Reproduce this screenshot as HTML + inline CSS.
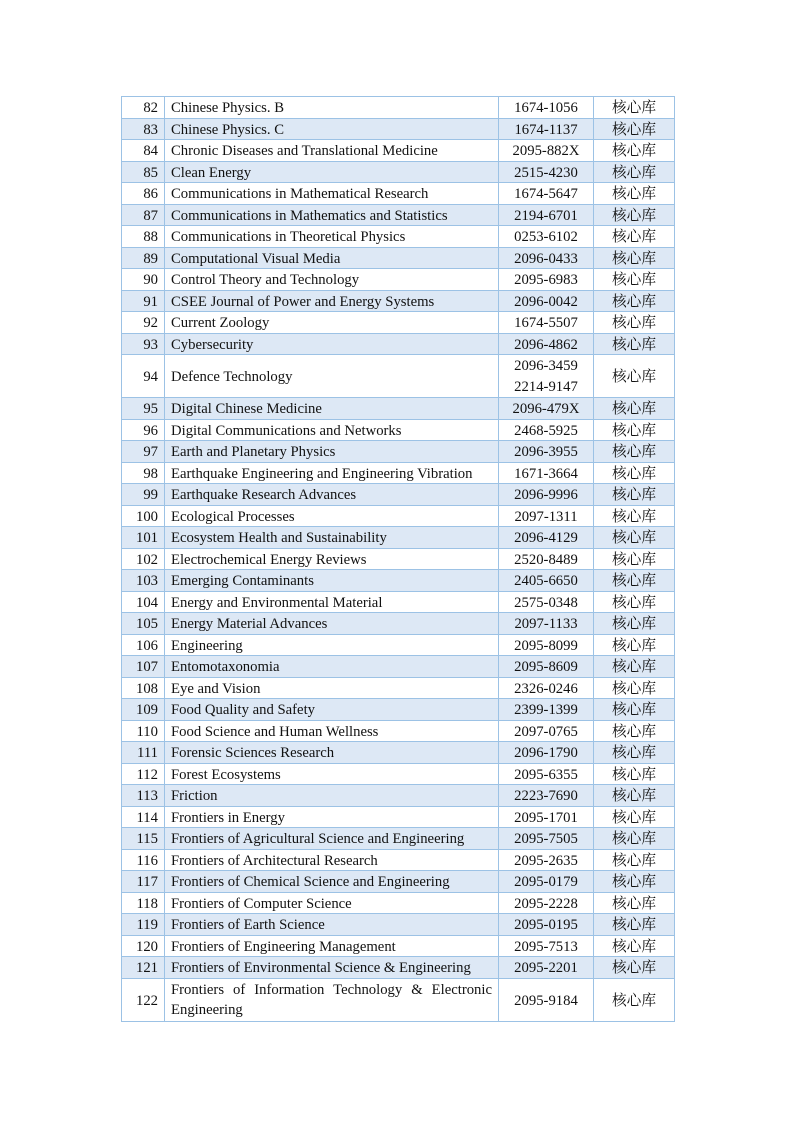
<!DOCTYPE html>
<html><head><meta charset="utf-8"><style>
body{margin:0;width:794px;height:1122px;background:#fff;position:relative;font-family:"Liberation Serif","Noto Serif CJK SC",serif;}
table{position:absolute;left:121px;top:96px;border-collapse:collapse;table-layout:fixed;width:553px;font-size:14.7px;color:#111;}
td{border:1px solid #9cc2e5;padding:0 6px;height:21.5px;white-space:nowrap;overflow:hidden;box-sizing:border-box;}
td>div{height:20px;line-height:20px;overflow:visible;position:relative;top:1px}
tr.b td{background:#dde8f5}
td:nth-child(1){text-align:right;padding-right:6px}
td:nth-child(3),td:nth-child(4){text-align:center}
td.w{white-space:normal;text-align:justify;text-align-last:left}
tr.d td{height:43px}
tr.d td>div{height:42px;line-height:20.5px}
tr.d td.c>div{line-height:42px}
</style></head><body>
<table>
<colgroup><col style="width:43px"><col style="width:334px"><col style="width:95px"><col style="width:81px"></colgroup>
<tr><td><div>82</div></td><td><div>Chinese Physics. B</div></td><td><div>1674-1056</div></td><td><div>核心库</div></td></tr>
<tr class="b"><td><div>83</div></td><td><div>Chinese Physics. C</div></td><td><div>1674-1137</div></td><td><div>核心库</div></td></tr>
<tr><td><div>84</div></td><td><div>Chronic Diseases and Translational Medicine</div></td><td><div>2095-882X</div></td><td><div>核心库</div></td></tr>
<tr class="b"><td><div>85</div></td><td><div>Clean Energy</div></td><td><div>2515-4230</div></td><td><div>核心库</div></td></tr>
<tr><td><div>86</div></td><td><div>Communications in Mathematical Research</div></td><td><div>1674-5647</div></td><td><div>核心库</div></td></tr>
<tr class="b"><td><div>87</div></td><td><div>Communications in Mathematics and Statistics</div></td><td><div>2194-6701</div></td><td><div>核心库</div></td></tr>
<tr><td><div>88</div></td><td><div>Communications in Theoretical Physics</div></td><td><div>0253-6102</div></td><td><div>核心库</div></td></tr>
<tr class="b"><td><div>89</div></td><td><div>Computational Visual Media</div></td><td><div>2096-0433</div></td><td><div>核心库</div></td></tr>
<tr><td><div>90</div></td><td><div>Control Theory and Technology</div></td><td><div>2095-6983</div></td><td><div>核心库</div></td></tr>
<tr class="b"><td><div>91</div></td><td><div>CSEE Journal of Power and Energy Systems</div></td><td><div>2096-0042</div></td><td><div>核心库</div></td></tr>
<tr><td><div>92</div></td><td><div>Current Zoology</div></td><td><div>1674-5507</div></td><td><div>核心库</div></td></tr>
<tr class="b"><td><div>93</div></td><td><div>Cybersecurity</div></td><td><div>2096-4862</div></td><td><div>核心库</div></td></tr>
<tr class="d"><td class="c"><div>94</div></td><td class="c"><div>Defence Technology</div></td><td><div>2096-3459<br>2214-9147</div></td><td class="c"><div>核心库</div></td></tr>
<tr class="b"><td><div>95</div></td><td><div>Digital Chinese Medicine</div></td><td><div>2096-479X</div></td><td><div>核心库</div></td></tr>
<tr><td><div>96</div></td><td><div>Digital Communications and Networks</div></td><td><div>2468-5925</div></td><td><div>核心库</div></td></tr>
<tr class="b"><td><div>97</div></td><td><div>Earth and Planetary Physics</div></td><td><div>2096-3955</div></td><td><div>核心库</div></td></tr>
<tr><td><div>98</div></td><td><div>Earthquake Engineering and Engineering Vibration</div></td><td><div>1671-3664</div></td><td><div>核心库</div></td></tr>
<tr class="b"><td><div>99</div></td><td><div>Earthquake Research Advances</div></td><td><div>2096-9996</div></td><td><div>核心库</div></td></tr>
<tr><td><div>100</div></td><td><div>Ecological Processes</div></td><td><div>2097-1311</div></td><td><div>核心库</div></td></tr>
<tr class="b"><td><div>101</div></td><td><div>Ecosystem Health and Sustainability</div></td><td><div>2096-4129</div></td><td><div>核心库</div></td></tr>
<tr><td><div>102</div></td><td><div>Electrochemical Energy Reviews</div></td><td><div>2520-8489</div></td><td><div>核心库</div></td></tr>
<tr class="b"><td><div>103</div></td><td><div>Emerging Contaminants</div></td><td><div>2405-6650</div></td><td><div>核心库</div></td></tr>
<tr><td><div>104</div></td><td><div>Energy and Environmental Material</div></td><td><div>2575-0348</div></td><td><div>核心库</div></td></tr>
<tr class="b"><td><div>105</div></td><td><div>Energy Material Advances</div></td><td><div>2097-1133</div></td><td><div>核心库</div></td></tr>
<tr><td><div>106</div></td><td><div>Engineering</div></td><td><div>2095-8099</div></td><td><div>核心库</div></td></tr>
<tr class="b"><td><div>107</div></td><td><div>Entomotaxonomia</div></td><td><div>2095-8609</div></td><td><div>核心库</div></td></tr>
<tr><td><div>108</div></td><td><div>Eye and Vision</div></td><td><div>2326-0246</div></td><td><div>核心库</div></td></tr>
<tr class="b"><td><div>109</div></td><td><div>Food Quality and Safety</div></td><td><div>2399-1399</div></td><td><div>核心库</div></td></tr>
<tr><td><div>110</div></td><td><div>Food Science and Human Wellness</div></td><td><div>2097-0765</div></td><td><div>核心库</div></td></tr>
<tr class="b"><td><div>111</div></td><td><div>Forensic Sciences Research</div></td><td><div>2096-1790</div></td><td><div>核心库</div></td></tr>
<tr><td><div>112</div></td><td><div>Forest Ecosystems</div></td><td><div>2095-6355</div></td><td><div>核心库</div></td></tr>
<tr class="b"><td><div>113</div></td><td><div>Friction</div></td><td><div>2223-7690</div></td><td><div>核心库</div></td></tr>
<tr><td><div>114</div></td><td><div>Frontiers in Energy</div></td><td><div>2095-1701</div></td><td><div>核心库</div></td></tr>
<tr class="b"><td><div>115</div></td><td><div>Frontiers of Agricultural Science and Engineering</div></td><td><div>2095-7505</div></td><td><div>核心库</div></td></tr>
<tr><td><div>116</div></td><td><div>Frontiers of Architectural Research</div></td><td><div>2095-2635</div></td><td><div>核心库</div></td></tr>
<tr class="b"><td><div>117</div></td><td><div>Frontiers of Chemical Science and Engineering</div></td><td><div>2095-0179</div></td><td><div>核心库</div></td></tr>
<tr><td><div>118</div></td><td><div>Frontiers of Computer Science</div></td><td><div>2095-2228</div></td><td><div>核心库</div></td></tr>
<tr class="b"><td><div>119</div></td><td><div>Frontiers of Earth Science</div></td><td><div>2095-0195</div></td><td><div>核心库</div></td></tr>
<tr><td><div>120</div></td><td><div>Frontiers of Engineering Management</div></td><td><div>2095-7513</div></td><td><div>核心库</div></td></tr>
<tr class="b"><td><div>121</div></td><td><div>Frontiers of Environmental Science &amp; Engineering</div></td><td><div>2095-2201</div></td><td><div>核心库</div></td></tr>
<tr class="d"><td class="c"><div>122</div></td><td class="w"><div>Frontiers of Information Technology &amp; Electronic Engineering</div></td><td class="c"><div>2095-9184</div></td><td class="c"><div>核心库</div></td></tr>
</table>
</body></html>
